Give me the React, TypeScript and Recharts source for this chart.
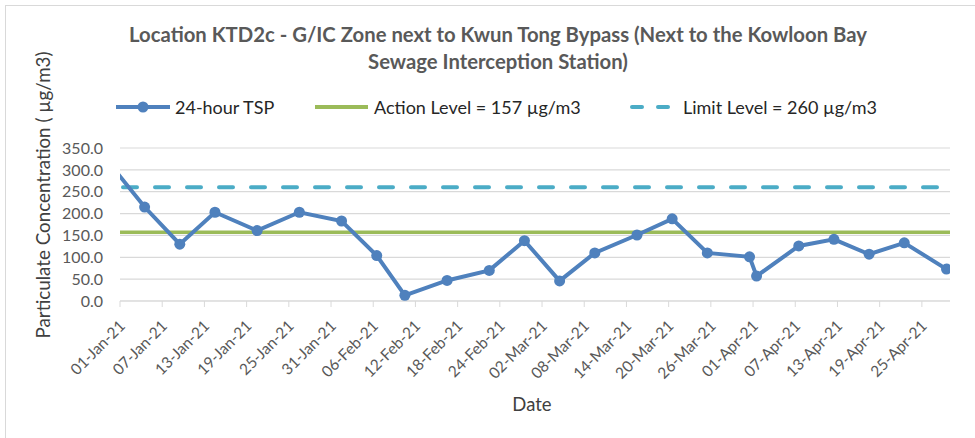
import React from "react";
import {
  CartesianGrid,
  Line,
  LineChart,
  ReferenceLine,
  XAxis,
  YAxis,
} from "recharts";

// sample dates (first one sits just before the axis start, so it is clipped)
const sampleDates = [
  "31-Dec-20",
  "04-Jan-21",
  "09-Jan-21",
  "14-Jan-21",
  "20-Jan-21",
  "26-Jan-21",
  "01-Feb-21",
  "06-Feb-21",
  "10-Feb-21",
  "16-Feb-21",
  "22-Feb-21",
  "27-Feb-21",
  "04-Mar-21",
  "09-Mar-21",
  "15-Mar-21",
  "20-Mar-21",
  "25-Mar-21",
  "31-Mar-21",
  "01-Apr-21",
  "07-Apr-21",
  "12-Apr-21",
  "17-Apr-21",
  "22-Apr-21",
  "28-Apr-21",
];

const tspValues = [
  295, 215, 130, 203, 161, 203, 183, 104, 13, 47, 70, 138, 46, 110, 151, 188,
  110, 101, 57, 126, 141, 107, 133, 73,
];

const xTickLabels = [
  "01-Jan-21",
  "07-Jan-21",
  "13-Jan-21",
  "19-Jan-21",
  "25-Jan-21",
  "31-Jan-21",
  "06-Feb-21",
  "12-Feb-21",
  "18-Feb-21",
  "24-Feb-21",
  "02-Mar-21",
  "08-Mar-21",
  "14-Mar-21",
  "20-Mar-21",
  "26-Mar-21",
  "01-Apr-21",
  "07-Apr-21",
  "13-Apr-21",
  "19-Apr-21",
  "25-Apr-21",
];

const yTicks = [0, 50, 100, 150, 200, 250, 300, 350];

const ACTION_LEVEL = 157;
const LIMIT_LEVEL = 260;

const MONTHS: Record<string, number> = {
  Jan: 0, Feb: 1, Mar: 2, Apr: 3, May: 4, Jun: 5,
  Jul: 6, Aug: 7, Sep: 8, Oct: 9, Nov: 10, Dec: 11,
};

// days since 01-Jan-21
const dayOf = (s: string) => {
  const [d, m, y] = s.split("-");
  const t = Date.UTC(2000 + Number(y), MONTHS[m], Number(d));
  return Math.round((t - Date.UTC(2021, 0, 1)) / 86400000);
};

const fmtDay = (v: number) => {
  const dt = new Date(Date.UTC(2021, 0, 1) + v * 86400000);
  const dd = String(dt.getUTCDate()).padStart(2, "0");
  const mm = Object.keys(MONTHS)[dt.getUTCMonth()];
  return `${dd}-${mm}-${String(dt.getUTCFullYear()).slice(2)}`;
};

// points sit in the middle of their day slot (Excel "between tick marks")
const data = sampleDates.map((d, i) => ({ x: dayOf(d) + 0.5, tsp: tspValues[i] }));
const xTicks = xTickLabels.map(dayOf);

const FONT = "Lato, 'Open Sans', sans-serif";
const BLUE = "#4F81BD";
const GREEN = "#9BBB59";
const CYAN = "#4BACC6";

const DateTick = ({ x, y, payload }: any) => (
  <g transform={`translate(${x + 6},${y + 20})`}>
    <text
      transform="rotate(-45)"
      textAnchor="end"
      fill="#595959"
      fontSize={15.5}
      fontFamily={FONT}
    >
      {fmtDay(payload.value)}
    </text>
  </g>
);

const TspDot = (props: any) => {
  const { cx, cy, index } = props;
  if (index === 0) return <g key={`dot-${index}`} />;
  return <circle key={`dot-${index}`} cx={cx} cy={cy} r={5.5} fill={BLUE} />;
};

const legendText: React.CSSProperties = {
  position: "absolute",
  top: 96,
  fontSize: 18,
  lineHeight: "22px",
  color: "#262626",
  fontFamily: FONT,
  whiteSpace: "nowrap",
};

export default function App() {
  return (
    <div
      style={{
        position: "fixed",
        left: 0,
        top: 0,
        width: 975,
        height: 438,
        overflow: "hidden",
        background: "#fff",
        fontFamily: FONT,
      }}
    >
      <div
        style={{
          position: "absolute",
          left: 5,
          top: 5,
          width: 1000,
          height: 500,
          border: "1px solid #d9d9d9",
        }}
      />
      <div
        style={{
          position: "absolute",
          left: 0,
          top: 21,
          width: 996,
          textAlign: "center",
          fontSize: 20.3,
          fontWeight: 700,
          lineHeight: "27px",
          color: "#595959",
          whiteSpace: "nowrap",
        }}
      >
        Location KTD2c - G/IC Zone next to Kwun Tong Bypass (Next to the Kowloon Bay
        <br />
        Sewage Interception Station)
      </div>

      {/* legend */}
      <svg style={{ position: "absolute", left: 0, top: 100 }} width={700} height={14}>
        <line x1={116} y1={7} x2={170} y2={7} stroke={BLUE} strokeWidth={4} />
        <circle cx={143} cy={7} r={5.5} fill={BLUE} />
        <line x1={315} y1={7} x2={368} y2={7} stroke={GREEN} strokeWidth={4} />
        <line
          x1={632}
          y1={7}
          x2={674}
          y2={7}
          stroke={CYAN}
          strokeWidth={4}
          strokeLinecap="round"
          strokeDasharray="10 16"
        />
      </svg>
      <div style={{ ...legendText, left: 175 }}>24-hour TSP</div>
      <div style={{ ...legendText, left: 374 }}>Action Level = 157 µg/m3</div>
      <div style={{ ...legendText, left: 683 }}>Limit Level = 260 µg/m3</div>

      <div
        style={{
          position: "absolute",
          left: 42,
          top: 195,
          transform: "translate(-50%, -50%) rotate(-90deg)",
          fontSize: 18.8,
          color: "#404040",
          whiteSpace: "nowrap",
        }}
      >
        Particulate Concentration ( µg/m3)
      </div>
      <div
        style={{
          position: "absolute",
          left: 532,
          top: 404,
          transform: "translate(-50%, -50%)",
          fontSize: 18.5,
          color: "#404040",
        }}
      >
        Date
      </div>

      <div style={{ position: "absolute", left: 0, top: 0 }}>
        <LineChart
          width={975}
          height={438}
          data={data}
          margin={{ top: 148, right: 25, bottom: 77, left: 60 }}
        >
          <CartesianGrid vertical={false} stroke="#d9d9d9" strokeWidth={1.2} />
          <XAxis
            dataKey="x"
            type="number"
            domain={[0, 118]}
            allowDataOverflow
            ticks={xTicks}
            interval={0}
            height={60}
            stroke="#d9d9d9"
            tickSize={6}
            tickMargin={0}
            tick={<DateTick />}
          />
          <YAxis
            type="number"
            domain={[0, 350]}
            ticks={yTicks}
            interval={0}
            width={60}
            axisLine={false}
            tickLine={false}
            tickSize={0}
            tickMargin={17}
            tickFormatter={(v: number) => v.toFixed(1)}
            tick={{ fill: "#595959", fontSize: 16, fontFamily: FONT }}
          />
          <ReferenceLine
            y={LIMIT_LEVEL}
            stroke={CYAN}
            strokeWidth={4}
            strokeLinecap="round"
            strokeDasharray="14 18"
            strokeDashoffset={-3}
          />
          <ReferenceLine y={ACTION_LEVEL} stroke={GREEN} strokeWidth={3.5} />
          <Line
            type="linear"
            dataKey="tsp"
            stroke={BLUE}
            strokeWidth={4}
            dot={TspDot}
            activeDot={false}
            isAnimationActive={false}
          />
        </LineChart>
      </div>
    </div>
  );
}
